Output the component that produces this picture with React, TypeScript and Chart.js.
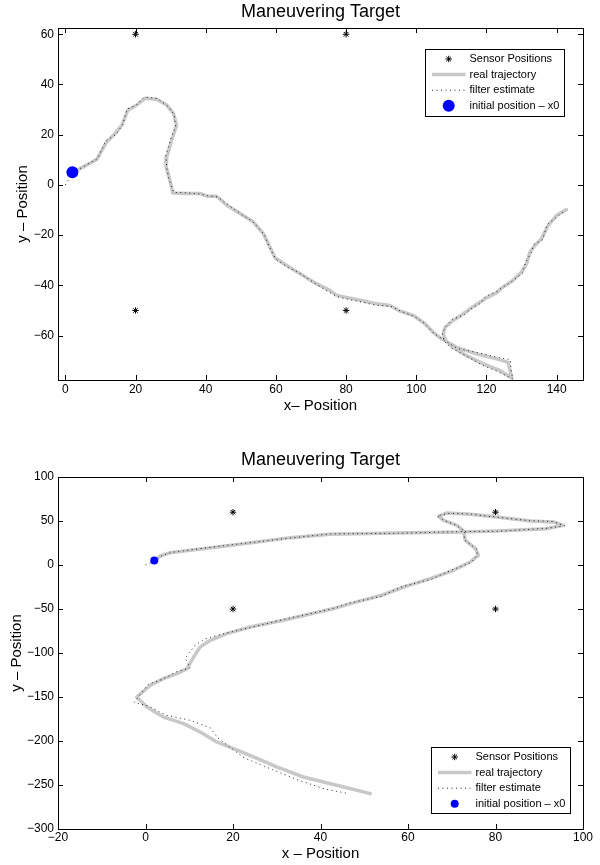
import React, { useEffect, useRef } from 'react';
import { Chart, registerables } from 'chart.js';

Chart.register(...registerables);

const FONT = "'Liberation Sans', Arial, Helvetica, sans-serif";

// Sensor positions (shared by both plots)
const SENSOR_X = [20, 80, 20, 80];
const SENSOR_Y = [60, 60, -50, -50];

// Initial position x0
const X0 = [2, 5];

// ---- Top plot ----
const TOP_X_TICKS = [0, 20, 40, 60, 80, 100, 120, 140];
const TOP_Y_TICKS = [-60, -40, -20, 0, 20, 40, 60];
const TOP_X_RANGE = [-2.1, 147.5];
const TOP_Y_RANGE = [-77.7, 62.5];

const TOP_REAL: number[][] = [
  [2, 5], [4.2, 6.5], [8.9, 10.1], [11.8, 17.2], [14.2, 20.5], [16.1, 23.8], [17.8, 29.8],
  [19.9, 31.4], [22.7, 34.5], [26.0, 34.1], [28.9, 31.8], [30.8, 28.5], [31.7, 23.8],
  [30.3, 17.8], [28.9, 11.2], [28.7, 7.2], [29.8, 1.9], [30.6, -3.2], [34.6, -3.4],
  [38.4, -3.4], [40.3, -4.5], [43.1, -4.5], [46.0, -8.1], [49.8, -11.4], [53.6, -14.8],
  [56.4, -19.4], [58.3, -24.7], [59.7, -29], [63.1, -32.1], [66.9, -35.4], [70.7, -38.7],
  [75.4, -42], [77.3, -44], [82.1, -45.4], [88.7, -47.3], [92.5, -48], [95.4, -50.3],
  [99.2, -52], [102.5, -55.3], [104.8, -58.7], [107.2, -61.3], [111.5, -64.7], [117.2, -67.3],
  [122.9, -69.3], [126.2, -70.7], [126.7, -74], [127.2, -76.9], [123.9, -74], [119.1, -71.3],
  [114.3, -68], [110.5, -64.7], [108.4, -62], [107.7, -59.3], [108.2, -56.7], [110.5, -54],
  [113.4, -51.3], [116.2, -48.5], [118.1, -46.7], [120, -45], [122.9, -42.9], [124.2, -41.2],
  [127.6, -38], [130, -34.7], [131.4, -31.4], [132.4, -26.7], [133.8, -24.1], [135.7, -21.4],
  [137.6, -16.1], [140, -12.1], [142.8, -9.8],
];

const TOP_EST: number[][] = [
  [0, 0], [2, 4.5], [4.5, 6.8], [9.2, 10.5], [11.5, 17.5], [14.5, 20.2], [16.4, 24.2],
  [17.6, 30.2], [20.2, 31.8], [22.5, 35.0], [26.3, 34.4], [29.2, 31.3], [31.0, 28.0],
  [31.4, 23.3], [30.0, 18.2], [28.6, 11.6], [28.9, 6.8], [29.5, 2.3], [30.9, -3.0],
  [34.3, -3.1], [38.6, -3.7], [40.0, -4.2], [43.4, -4.8], [46.3, -7.8], [50.1, -11.7],
  [53.3, -14.5], [56.7, -19.8], [58.0, -24.4], [60.0, -29.6], [63.4, -32.8], [66.6, -35.0],
  [71.0, -39.1], [75.0, -42.6], [77.6, -44.6], [81.8, -45.9], [88.5, -47.9], [92.8, -48.4],
  [95.1, -50.0], [99.5, -52.5], [102.2, -55.0], [105.1, -59.2], [107.0, -61.0], [111.8, -65.2],
  [117.5, -66.8], [123.2, -68.7], [126.8, -69.6], [127.0, -73.5], [127.5, -77.3], [123.6, -74.6],
  [118.8, -71.8], [114.6, -68.4], [110.2, -65.1], [108.0, -62.4], [107.4, -59.0], [108.5, -56.3],
  [110.2, -53.6], [113.7, -51.7], [116.0, -48.9], [118.4, -47.1], [119.7, -44.4], [123.2, -42.3],
  [124.2, -41.1], [127.3, -38.4], [130.3, -35.1], [131.1, -31.0], [132.7, -27.1], [133.5, -23.7],
  [136.0, -21.8], [137.3, -15.7], [140.3, -12.5], [142.5, -10.1],
];

// ---- Bottom plot ----
const BOT_X_TICKS = [-20, 0, 20, 40, 60, 80, 100];
const BOT_Y_TICKS = [-300, -250, -200, -150, -100, -50, 0, 50, 100];
const BOT_X_RANGE = [-20, 100];
const BOT_Y_RANGE = [-300, 100];

const BOT_REAL: number[][] = [
  [2, 5], [3.4, 10.2], [5.6, 14], [10.2, 16.7], [17.8, 21.3], [25.5, 26.1], [33.1, 31.1],
  [42.2, 34.9], [57.5, 36.4], [71.9, 37.5], [80.3, 38.6], [91.7, 41.3], [95.5, 45.1],
  [93.3, 48.9], [88, 50], [80.3, 54.5], [74.2, 57.6], [68.9, 59.1], [67, 55.3], [68.1, 50.8],
  [71.2, 45.1], [72.7, 38.6], [73.1, 28.1], [75.4, 18.6], [76.1, 11], [74.2, 3.4], [70.4, -6],
  [65.1, -15.5], [59, -25], [53.6, -35], [46.8, -43.9], [43, -49.5], [31.5, -62.8],
  [23.9, -70.4], [18.6, -78], [14.8, -85.6], [12.5, -93.2], [11, -104.5], [9.5, -117.7],
  [7.2, -123.4], [4.1, -129.1], [1.1, -136.7], [-2.0, -150], [0.3, -161.4], [4.1, -172.7],
  [8.7, -180.2], [12.5, -189.8], [16.3, -201.1], [23.9, -216.3], [30, -229.5], [36.1, -240.9],
  [43.7, -250.3], [51.4, -259.8],
];

const BOT_EST: number[][] = [
  [0, 0], [2, 4], [3.8, 10.8], [6, 14.4], [10.4, 17.2], [17.6, 21.8], [25.7, 26.4],
  [33.4, 30.8], [42, 35.3], [57.8, 36.1], [71.6, 37.9], [80.6, 38.3], [92, 41.8], [95.8, 44.6],
  [93, 49.4], [87.7, 50.4], [80.6, 54.1], [73.9, 58.1], [69.2, 58.7], [66.7, 55.8], [68.4, 50.3],
  [70.9, 45.6], [73, 38.2], [72.8, 28.6], [75.7, 18.1], [75.8, 11.5], [74.5, 2.9], [70.1, -5.5],
  [65.4, -16], [58.7, -24.5], [53.9, -35.5], [46.5, -43.4], [42.5, -50], [31.2, -62.3],
  [24.2, -70.9], [18.3, -77.5], [13.5, -84], [11.2, -92], [9.1, -106], [10.2, -117],
  [7.0, -121.5], [3.8, -130], [0.6, -135.5], [-2.6, -156], [0.8, -160.5], [4.6, -170.5],
  [10.2, -176.5], [14.8, -185], [16.5, -196.5], [22.5, -219], [29, -232.5], [35, -244.5],
  [41, -254.5], [46.4, -259.8],
];

const LABELS = ['Sensor Positions', 'real trajectory', 'filter estimate', 'initial position \u2013 x0'];

const toXY = (pts: number[][]) => pts.map(([x, y]) => ({ x, y }));
const fmt = (v: any) => String(v).replace('-', '\u2212');

function drawStar(ctx: CanvasRenderingContext2D, x: number, y: number, r: number) {
  ctx.beginPath();
  for (let k = 0; k < 4; k++) {
    const a = (k * Math.PI) / 4;
    const dx = Math.cos(a) * r;
    const dy = Math.sin(a) * r;
    ctx.moveTo(x + dx, y + dy);
    ctx.lineTo(x - dx, y - dy);
  }
  ctx.stroke();
}

const framePlugin = {
  id: 'frame',
  afterDatasetsDraw(chart: any, _args: any, opts: any) {
    const { ctx, chartArea } = chart;
    const { left, right, top, bottom } = chartArea;
    const xs = chart.scales.x;
    const ys = chart.scales.y;
    const len = opts.len || 5;
    ctx.save();
    ctx.strokeStyle = '#000';
    ctx.lineWidth = 1;
    ctx.beginPath();
    for (const t of xs.ticks) {
      const px = Math.round(xs.getPixelForValue(t.value)) + 0.5;
      ctx.moveTo(px, bottom);
      ctx.lineTo(px, bottom - len);
      ctx.moveTo(px, top);
      ctx.lineTo(px, top + len);
    }
    for (const t of ys.ticks) {
      const py = Math.round(ys.getPixelForValue(t.value)) + 0.5;
      ctx.moveTo(left, py);
      ctx.lineTo(left + len, py);
      ctx.moveTo(right, py);
      ctx.lineTo(right - len, py);
    }
    ctx.stroke();
    ctx.strokeRect(Math.round(left) + 0.5, Math.round(top) + 0.5, Math.round(right - left), Math.round(bottom - top));
    ctx.restore();
  },
};

const legendPlugin = {
  id: 'matlabLegend',
  afterDraw(chart: any, _args: any, opts: any) {
    const { ctx, chartArea } = chart;
    const w = opts.width;
    const h = opts.height;
    const bx = chartArea.right - opts.insetRight - w;
    const by = opts.anchor === 'top' ? chartArea.top + opts.insetY : chartArea.bottom - opts.insetY - h;
    ctx.save();
    ctx.fillStyle = '#fff';
    ctx.fillRect(bx, by, w, h);
    ctx.strokeStyle = '#000';
    ctx.lineWidth = 1;
    ctx.strokeRect(Math.round(bx) + 0.5, Math.round(by) + 0.5, Math.round(w), Math.round(h));
    ctx.font = `11px ${FONT}`;
    ctx.textBaseline = 'middle';
    ctx.textAlign = 'left';
    const ds = chart.data.datasets;
    ds.forEach((d: any, i: number) => {
      const cy = by + 10 + i * 15.6;
      const x1 = bx + 7;
      const x2 = bx + 40.5;
      const cx = bx + 23.7;
      if (d.showLine) {
        ctx.save();
        ctx.strokeStyle = d.borderColor;
        ctx.lineWidth = d.borderWidth;
        ctx.setLineDash(d.borderDash || []);
        ctx.beginPath();
        ctx.moveTo(x1, cy);
        ctx.lineTo(x2, cy);
        ctx.stroke();
        ctx.restore();
      } else if (d.pointStyle === 'star') {
        ctx.save();
        ctx.strokeStyle = d.borderColor;
        ctx.lineWidth = d.borderWidth;
        drawStar(ctx, cx, cy, d.pointRadius);
        ctx.restore();
      } else {
        ctx.save();
        ctx.fillStyle = d.backgroundColor;
        ctx.beginPath();
        ctx.arc(cx, cy, d.pointRadius, 0, Math.PI * 2);
        ctx.fill();
        ctx.restore();
      }
      ctx.fillStyle = '#000';
      ctx.fillText(d.label, bx + 44.5, cy);
    });
    ctx.restore();
  },
};

type Spec = {
  real: number[][];
  est: number[][];
  xRange: number[];
  yRange: number[];
  xTicks: number[];
  yTicks: number[];
  xTitle: string;
  titlePad: { top: number; bottom: number };
  xAxisHeight: number;
  xTickPad: number;
  xTitleBottom: number;
  yTitleTop: number;
  x0Radius: number;
  legend: any;
};

function makeConfig(s: Spec): any {
  return {
    type: 'scatter',
    data: {
      datasets: [
        {
          label: LABELS[0],
          data: SENSOR_X.map((x, i) => ({ x, y: SENSOR_Y[i] })),
          showLine: false,
          pointStyle: 'star',
          pointRadius: 3.2,
          pointHoverRadius: 3.2,
          borderColor: '#000',
          backgroundColor: '#000',
          borderWidth: 1,
          order: 3,
        },
        {
          label: LABELS[1],
          data: toXY(s.real),
          showLine: true,
          pointRadius: 0,
          borderColor: '#c8c8c8',
          borderWidth: 3.5,
          borderJoinStyle: 'round',
          borderCapStyle: 'round',
          tension: 0,
          order: 2,
        },
        {
          label: LABELS[2],
          data: toXY(s.est),
          showLine: true,
          pointRadius: 0,
          borderColor: 'rgba(0,0,0,0.85)',
          borderWidth: 1,
          borderDash: [1, 3.5],
          tension: 0,
          order: 1,
        },
        {
          label: LABELS[3],
          data: [{ x: X0[0], y: X0[1] }],
          showLine: false,
          pointStyle: 'circle',
          pointRadius: s.x0Radius,
          pointHoverRadius: s.x0Radius,
          backgroundColor: '#0000ff',
          borderColor: '#0000ff',
          borderWidth: 0,
          order: 0,
        },
      ],
    },
    options: {
      animation: false,
      responsive: false,
      devicePixelRatio: 1,
      events: [],
      layout: { padding: { top: 0, left: 0, right: 17, bottom: 0 } },
      plugins: {
        legend: { display: false },
        tooltip: { enabled: false },
        title: {
          display: true,
          text: 'Maneuvering Target',
          fullSize: false,
          color: '#000',
          font: { family: FONT, size: 18, weight: 'normal' },
          padding: s.titlePad,
        },
        frame: { len: 5 },
        matlabLegend: s.legend,
      },
      scales: {
        x: {
          type: 'linear',
          min: s.xRange[0],
          max: s.xRange[1],
          grid: { display: false, drawTicks: false },
          border: { display: false },
          ticks: {
            padding: s.xTickPad,
            color: '#000',
            font: { family: FONT, size: 12 },
            maxRotation: 0,
            minRotation: 0,
            autoSkip: false,
            callback: fmt,
          },
          afterBuildTicks: (sc: any) => {
            sc.ticks = s.xTicks.map((v) => ({ value: v }));
          },
          afterFit: (sc: any) => {
            sc.height = s.xAxisHeight;
          },
          title: {
            display: true,
            text: s.xTitle,
            color: '#000',
            font: { family: FONT, size: 15 },
            padding: { top: 0, bottom: s.xTitleBottom },
          },
        },
        y: {
          type: 'linear',
          min: s.yRange[0],
          max: s.yRange[1],
          grid: { display: false, drawTicks: false },
          border: { display: false },
          ticks: {
            padding: 4,
            color: '#000',
            font: { family: FONT, size: 12 },
            autoSkip: false,
            callback: fmt,
          },
          afterBuildTicks: (sc: any) => {
            sc.ticks = s.yTicks.map((v) => ({ value: v }));
          },
          afterFit: (sc: any) => {
            sc.width = 58;
          },
          title: {
            display: true,
            text: 'y \u2013 Position',
            color: '#000',
            font: { family: FONT, size: 15 },
            padding: { top: s.yTitleTop, bottom: 0 },
          },
        },
      },
    },
    plugins: [framePlugin, legendPlugin],
  };
}

const TOP_SPEC: Spec = {
  real: TOP_REAL,
  est: TOP_EST,
  xRange: TOP_X_RANGE,
  yRange: TOP_Y_RANGE,
  xTicks: TOP_X_TICKS,
  yTicks: TOP_Y_TICKS,
  xTitle: 'x\u2013 Position',
  titlePad: { top: 1.2, bottom: 5.2 },
  xAxisHeight: 52,
  xTickPad: 2,
  xTitleBottom: 17,
  yTitleTop: 14,
  x0Radius: 6,
  legend: { anchor: 'top', insetRight: 19, insetY: 21, width: 139, height: 67 },
};

const BOT_SPEC: Spec = {
  real: BOT_REAL,
  est: BOT_EST,
  xRange: BOT_X_RANGE,
  yRange: BOT_Y_RANGE,
  xTicks: BOT_X_TICKS,
  yTicks: BOT_Y_TICKS,
  xTitle: 'x \u2013 Position',
  titlePad: { top: 17.2, bottom: 6.2 },
  xAxisHeight: 36,
  xTickPad: 1,
  xTitleBottom: 2.5,
  yTitleTop: 8,
  x0Radius: 4,
  legend: { anchor: 'bottom', insetRight: 13, insetY: 16, width: 139, height: 66 },
};

function PlotCanvas({ spec, height }: { spec: Spec; height: number }) {
  const ref = useRef<HTMLCanvasElement | null>(null);
  useEffect(() => {
    if (!ref.current) return;
    const chart = new Chart(ref.current, makeConfig(spec));
    return () => chart.destroy();
  }, [spec]);
  return <canvas ref={ref} width={600} height={height} style={{ display: 'block', width: 600, height }} />;
}

export default function App() {
  return (
    <div style={{ position: 'absolute', left: 0, top: 0, width: 600, height: 865, background: '#fff' }}>
      <PlotCanvas spec={TOP_SPEC} height={432} />
      <PlotCanvas spec={BOT_SPEC} height={433} />
    </div>
  );
}
